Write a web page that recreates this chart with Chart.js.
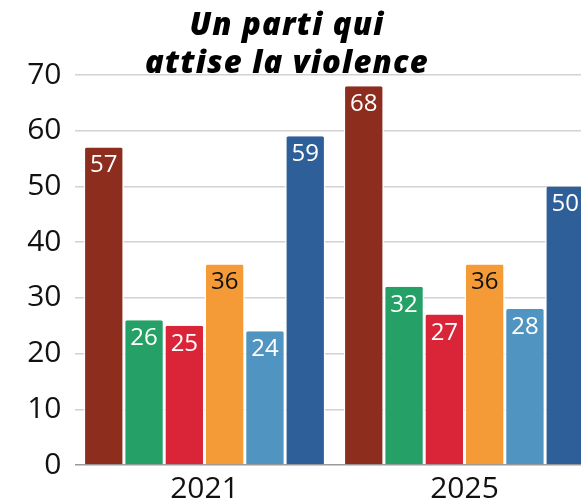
<!doctype html>
<html lang="fr">
  <head>
    <meta charset="UTF-8" />
    <title>Un parti qui attise la violence</title>
    <script src="https://cdn.jsdelivr.net/npm/chart.js"></script>
    <style>
      html,
      body {
        margin: 0;
        padding: 0;
        background: #ffffff;
        overflow: hidden;
      }
      .wrap {
        position: relative;
        width: 600px;
        height: 504px;
      }
      .chart-title {
        position: absolute;
        top: 4px;
        left: 0;
        width: 574px;
        text-align: center;
        font-family: 'Open Sans', sans-serif;
        font-weight: 800;
        font-style: italic;
        font-size: 31px;
        letter-spacing: 1.2px;
        line-height: 38px;
        color: #000;
        z-index: 2;
      }
    </style>
  </head>
  <body>
    <div class="wrap">
      <div class="chart-title">Un parti qui<br />attise la violence</div>
      <canvas id="chart" width="600" height="504"></canvas>
    </div>

    <script>
      // Données
      const annees = ['2021', '2025'];
      const serie1 = [57, 68];
      const serie2 = [26, 32];
      const serie3 = [25, 27];
      const serie4 = [36, 36];
      const serie5 = [24, 28];
      const serie6 = [59, 50];
      const ticksY = [0, 10, 20, 30, 40, 50, 60, 70];

      const couleurs = ['#8c2d1e', '#25a066', '#da2539', '#f49b38', '#5094c2', '#2e5f98'];
      const couleursTexte = ['#fff', '#fff', '#fff', '#111', '#fff', '#fff'];
      const series = [serie1, serie2, serie3, serie4, serie5, serie6];

      const FONT = "'Open Sans', sans-serif";

      // Étiquettes de valeur dans le haut des barres
      const valeursPlugin = {
        id: 'valeurs',
        afterDatasetsDraw(chart) {
          const ctx = chart.ctx;
          ctx.save();
          ctx.font = '24px ' + FONT;
          ctx.textAlign = 'center';
          ctx.textBaseline = 'alphabetic';
          chart.data.datasets.forEach((ds, i) => {
            const meta = chart.getDatasetMeta(i);
            meta.data.forEach((bar, j) => {
              ctx.fillStyle = couleursTexte[i];
              ctx.fillText(String(ds.data[j]), bar.x, bar.y + 25);
            });
          });
          ctx.restore();
        },
      };

      const datasets = series.map((data, i) => ({
        label: 'Série ' + (i + 1),
        data: data,
        backgroundColor: couleurs[i],
        borderColor: '#ffffff',
        borderWidth: { left: 1.5, right: 1.5, top: 0, bottom: 0 },
        borderRadius: { topLeft: 3, topRight: 3 },
        borderSkipped: 'bottom',
        barPercentage: 1,
        categoryPercentage: 0.93,
      }));

      new Chart(document.getElementById('chart'), {
        type: 'bar',
        data: { labels: annees, datasets: datasets },
        plugins: [valeursPlugin],
        options: {
          responsive: false,
          animation: false,
          layout: { padding: { top: 75, right: 5.5, bottom: 0, left: 0 } },
          plugins: {
            legend: { display: false },
            title: { display: false },
            tooltip: { enabled: false },
          },
          scales: {
            x: {
              afterFit: (scale) => {
                scale.height = 39;
              },
              grid: { display: false, drawTicks: false },
              border: { display: false },
              ticks: {
                color: '#111',
                padding: 6,
                font: { family: FONT, size: 30 },
              },
            },
            y: {
              min: 0,
              max: 70,
              afterFit: (scale) => {
                scale.width = 74.5;
              },
              afterBuildTicks: (scale) => {
                scale.ticks = ticksY.map((v) => ({ value: v }));
              },
              border: { display: false },
              grid: {
                drawTicks: false,
                color: (c) => (c.tick && c.tick.value === 0 ? '#9a9a9a' : '#d2d2d2'),
                lineWidth: 1.5,
              },
              ticks: {
                color: '#111',
                padding: 13,
                font: { family: FONT, size: 30 },
              },
            },
          },
        },
      });
    </script>
  </body>
</html>
